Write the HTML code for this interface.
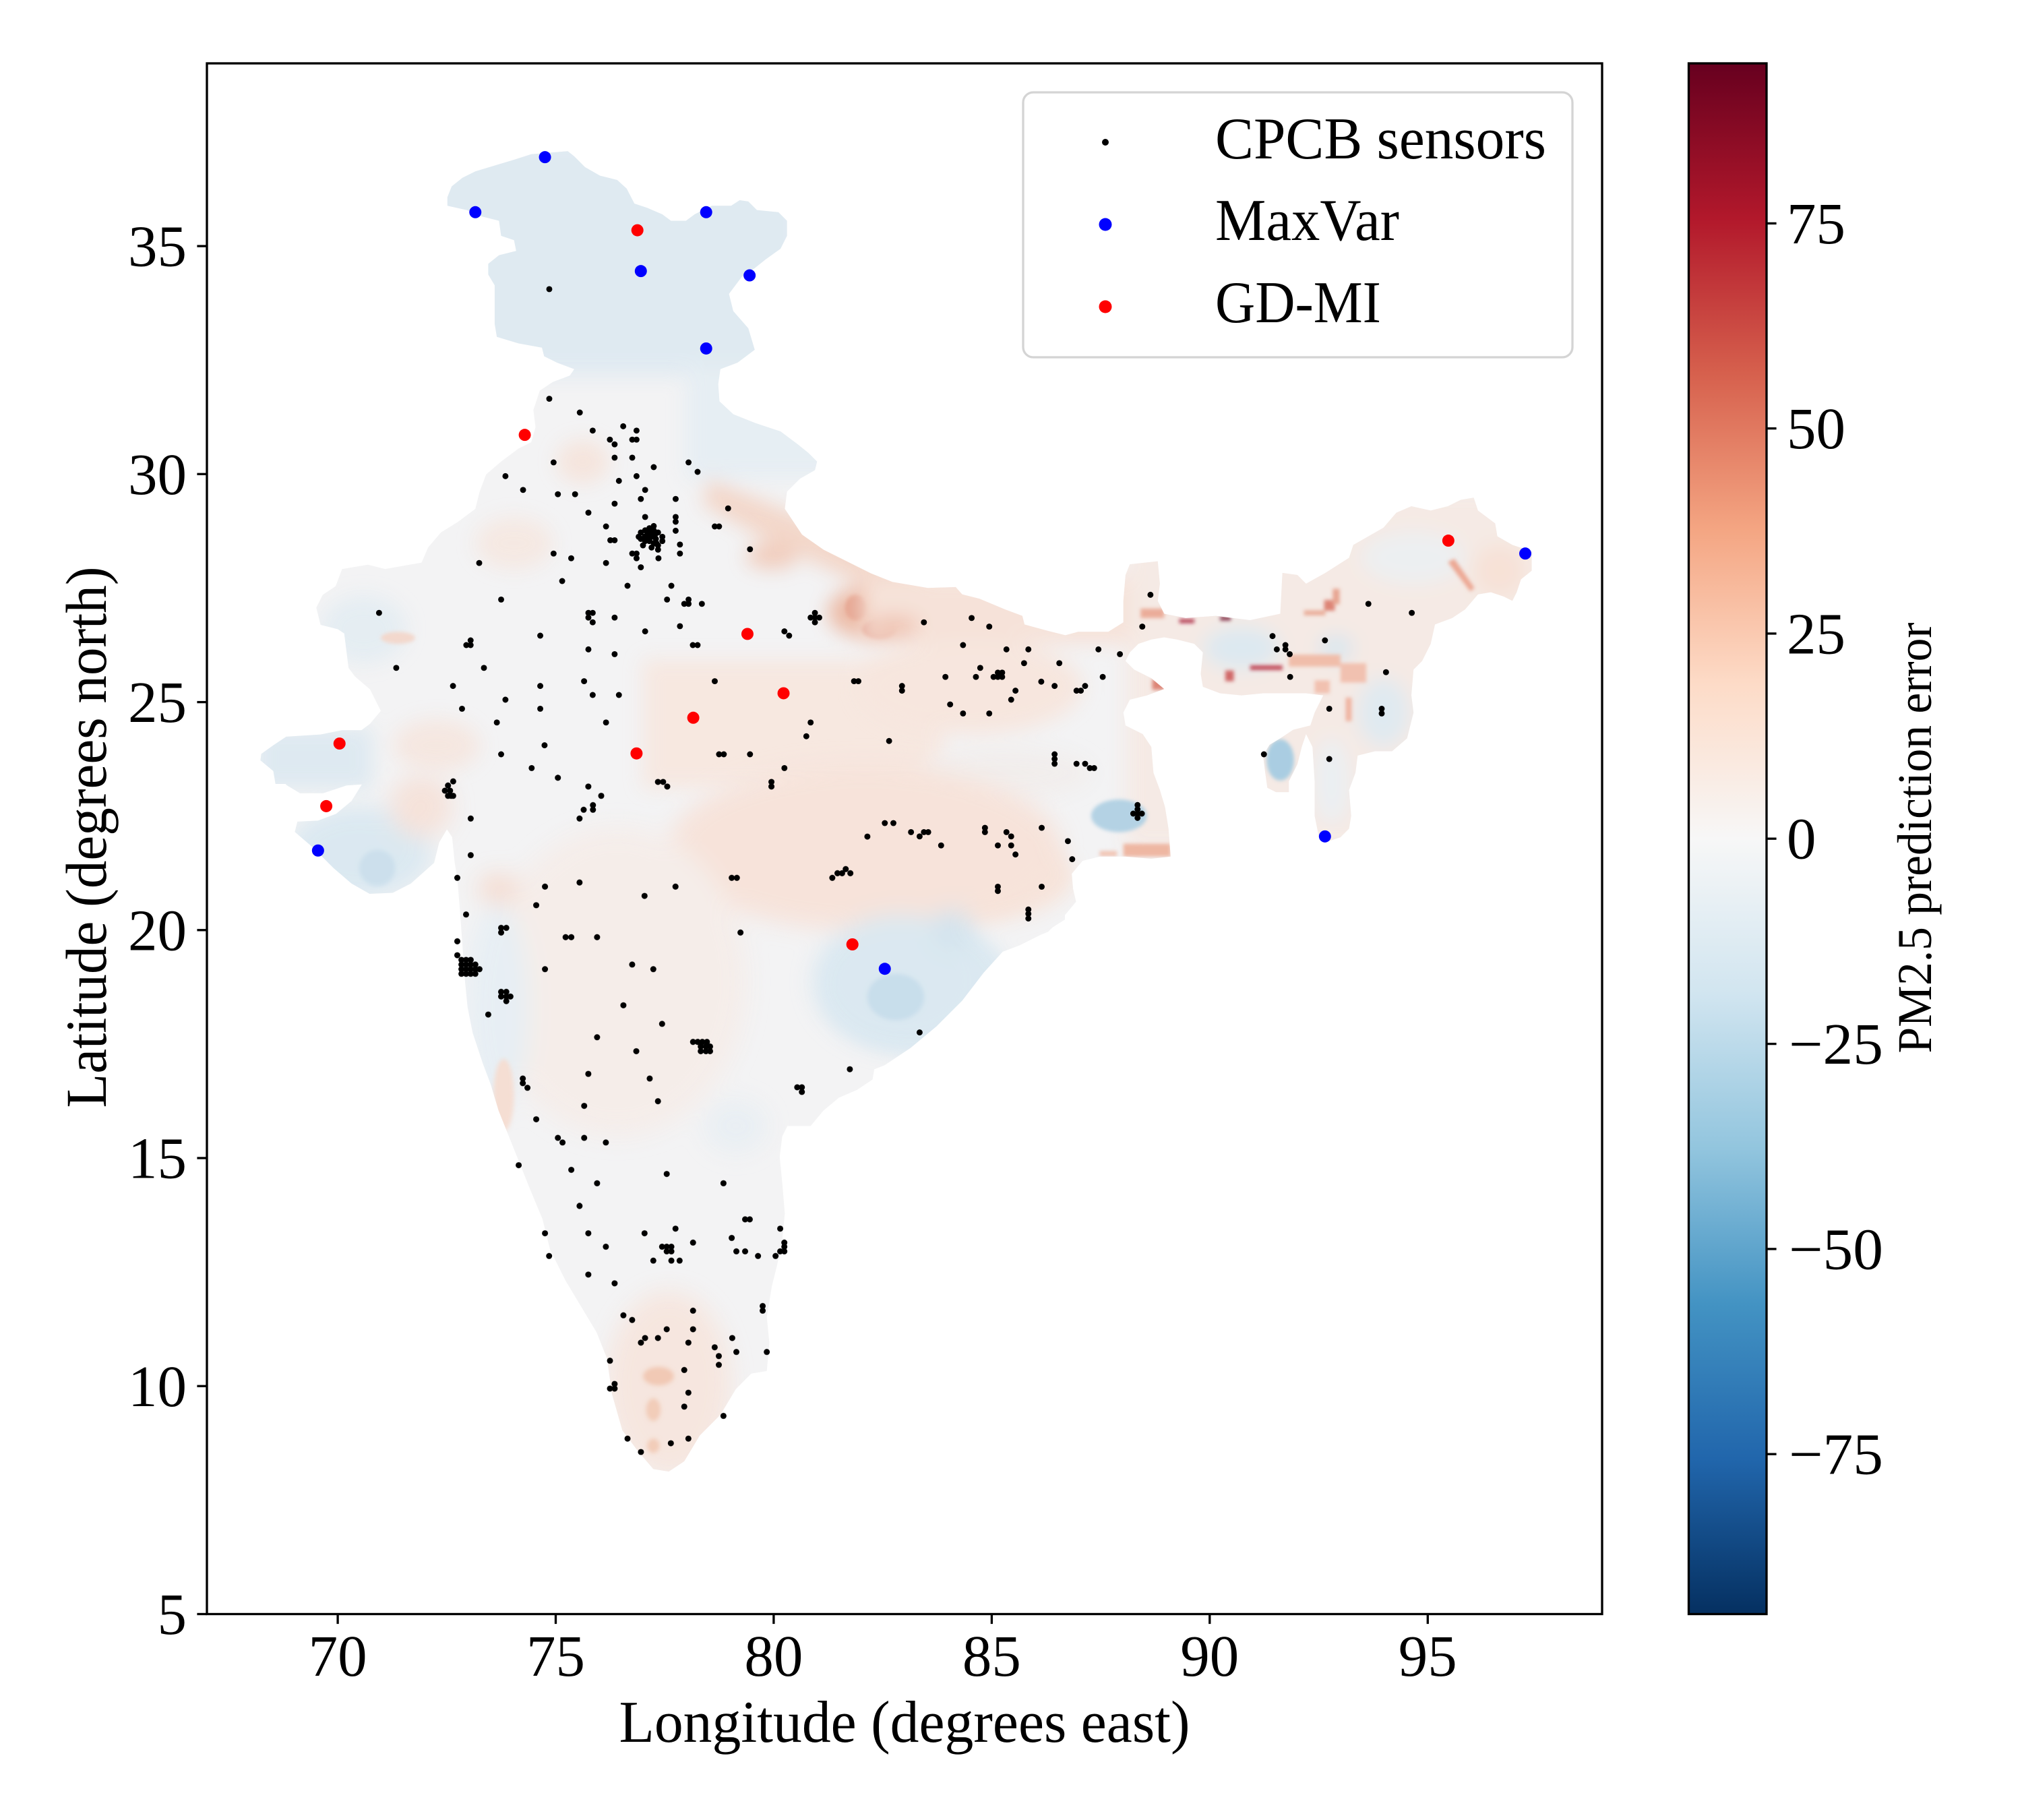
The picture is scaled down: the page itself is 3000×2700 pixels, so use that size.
<!DOCTYPE html>
<html>
<head>
<meta charset="utf-8">
<style>
html,body{margin:0;padding:0;background:#fff;}
svg{display:block;}
text{font-family:"Liberation Serif","DejaVu Serif",serif;fill:#000;}
</style>
</head>
<body>
<svg xmlns="http://www.w3.org/2000/svg" width="3000" height="2700" viewBox="0 0 3000 2700">
<defs>
<linearGradient id="cb" x1="0" y1="0" x2="0" y2="1">
<stop offset="0" stop-color="#67001f"/>
<stop offset="0.1" stop-color="#b2182b"/>
<stop offset="0.2" stop-color="#d6604d"/>
<stop offset="0.3" stop-color="#f4a582"/>
<stop offset="0.4" stop-color="#fddbc7"/>
<stop offset="0.5" stop-color="#f7f7f7"/>
<stop offset="0.6" stop-color="#d1e5f0"/>
<stop offset="0.7" stop-color="#92c5de"/>
<stop offset="0.8" stop-color="#4393c3"/>
<stop offset="0.9" stop-color="#2166ac"/>
<stop offset="1" stop-color="#053061"/>
</linearGradient>
<filter id="b1" x="-20%" y="-20%" width="140%" height="140%"><feGaussianBlur stdDeviation="22"/></filter>
<filter id="b2" x="-20%" y="-20%" width="140%" height="140%"><feGaussianBlur stdDeviation="4"/></filter>
<path id="p8" d="M445,145 L455,120 480,100 510,85 560,70 600,58 640,45 725,38 740,50 765,75 800,95 840,105 862,125 880,160 910,170 945,185 965,200 1000,200 1020,185 1060,165 1105,165 1125,152 1145,155 1165,175 1215,180 1235,200 1235,235 1220,265 1185,290 1160,310 1130,330 1100,370 1110,410 1145,450 1160,500 1120,530 1080,545 1075,580 1078,620 1110,650 1160,670 1220,690 1260,720 1285,740 1305,760 1300,780 1265,800 1235,830 1230,870 1270,930 1320,965 1370,990 1430,1020 1480,1040 1568,1055 1600,1055 1600,1510 45,1510 40,1480 10,1455 12,1440 40,1420 70,1400 150,1395 200,1385 245,1385 265,1370 290,1340 265,1290 230,1260 215,1240 210,1200 205,1160 190,1150 150,1140 140,1100 155,1070 185,1050 200,1010 260,1000 300,1010 385,995 400,960 430,925 470,900 510,870 520,830 535,790 570,760 610,730 640,715 650,680 645,640 660,595 690,575 730,560 740,545 700,530 670,515 665,495 610,485 560,470 555,440 555,350 540,325 540,300 565,280 605,270 600,245 570,235 565,200 525,190 490,175 445,165 Z"/>
<path id="p9" d="M-30,250 L0,250 60,262 120,270 185,268 200,285 240,295 300,320 340,335 345,355 400,370 440,380 470,372 540,372 575,350 575,300 580,240 590,215 655,208 660,260 655,300 670,330 720,340 790,335 830,340 870,345 940,330 945,235 980,240 1000,260 1045,235 1100,200 1110,170 1180,130 1210,95 1245,80 1290,90 1330,80 1360,65 1390,60 1400,90 1440,120 1445,150 1480,170 1525,185 1525,230 1500,250 1490,280 1480,300 1460,290 1430,280 1400,285 1370,320 1340,340 1300,355 1290,400 1270,440 1250,460 1245,520 1250,560 1235,620 1200,650 1160,650 1120,660 1115,700 1100,740 1105,800 1100,830 1080,850 1050,860 1030,850 1020,800 1020,720 1015,640 1000,610 990,640 980,680 960,720 960,745 930,745 910,735 905,700 900,660 915,635 940,620 970,600 1010,590 1020,560 1040,520 1000,515 960,515 900,515 850,520 800,515 760,500 755,470 760,420 740,400 700,390 670,385 640,390 610,400 590,420 580,440 600,460 640,480 670,505 630,520 590,530 575,560 580,590 620,610 640,640 645,700 660,740 672,780 680,830 685,895 640,900 580,895 520,895 480,905 455,935 458,970 465,1000 440,1030 400,1070 350,1090 300,1110 250,1165 200,1230 140,1290 80,1340 20,1380 -30,1400 Z"/>
<path id="p10" d="M40,-30 L40,0 60,20 85,35 130,35 175,20 205,18 185,50 155,75 120,88 80,90 75,110 110,140 150,180 185,210 220,230 265,228 300,210 345,170 355,130 370,105 380,120 385,170 390,200 395,260 400,330 405,400 410,450 420,500 440,560 455,600 470,650 490,700 510,750 530,800 555,860 570,920 600,980 630,1030 660,1080 680,1130 690,1200 710,1270 740,1310 770,1345 800,1350 830,1330 860,1280 900,1240 930,1190 960,1160 990,1155 995,1100 990,1050 1000,990 1010,950 1020,900 1025,850 1020,790 1015,740 1020,700 1030,680 1075,680 1100,650 1130,625 1165,610 1195,590 1200,560 1230,530 1270,500 1330,460 1380,420 1440,345 1480,330 1520,310 1568,280 1568,-30 Z"/>
<clipPath id="mc">
<use href="#p8" transform="translate(380,200) scale(0.63776)"/>
<use href="#p9" transform="translate(1300,700) scale(0.63776)"/>
<use href="#p10" transform="translate(380,1150) scale(0.76531)"/>
</clipPath>
</defs>

<rect x="0" y="0" width="3000" height="2700" fill="#fff"/>

<!-- map base -->
<g fill="#f3f3f4">
<use href="#p8" transform="translate(380,200) scale(0.63776)"/>
<use href="#p9" transform="translate(1300,700) scale(0.63776)"/>
<use href="#p10" transform="translate(380,1150) scale(0.76531)"/>
</g>

<!-- heat patches -->
<g clip-path="url(#mc)" opacity="0.75">
<g transform="translate(380,200) scale(0.63776)">
<g filter="url(#b1)">
<rect x="380" y="0" width="900" height="560" fill="#d9e7f1"/>
<rect x="1000" y="540" width="350" height="260" fill="#e2ecf3"/>
<ellipse cx="760" cy="760" rx="60" ry="50" fill="#f6e0d5"/>
<polygon points="1050,800 1250,880 1568,1040 1568,1120 1200,950 1040,860" fill="#f3cdbb"/>
<rect x="900" y="1220" width="700" height="300" fill="#f8e4da"/>
<rect x="0" y="1380" width="270" height="140" fill="#d7e6f0"/>
<ellipse cx="250" cy="1150" rx="100" ry="80" fill="#e0ebf2"/>
<ellipse cx="600" cy="950" rx="90" ry="60" fill="#f6e5dd"/>
<ellipse cx="420" cy="1420" rx="100" ry="60" fill="#f6e3da"/>
<ellipse cx="1420" cy="1110" rx="90" ry="60" fill="#eaa88c"/>
<ellipse cx="1200" cy="980" rx="60" ry="30" fill="#f0c0aa"/>
</g>
<g filter="url(#b2)">
<ellipse cx="1450" cy="1150" rx="40" ry="22" fill="#dc8069"/>
<ellipse cx="1395" cy="1100" rx="25" ry="30" fill="#e28f75"/>
<ellipse cx="330" cy="1170" rx="40" ry="14" fill="#f3cfc0"/>
</g>
</g>
<g transform="translate(1300,700) scale(0.63776)">
<g filter="url(#b1)">
<rect x="580" y="40" width="980" height="840" fill="#f6e7e0"/>
<rect x="-30" y="240" width="620" height="160" fill="#f7ddd0"/>
<ellipse cx="40" cy="360" rx="60" ry="25" fill="#eeb39b"/>
<ellipse cx="220" cy="500" rx="260" ry="110" fill="#f8e2d7"/>
<ellipse cx="300" cy="700" rx="200" ry="60" fill="#f1ecea"/>
<ellipse cx="200" cy="940" rx="260" ry="110" fill="#f8dfd2"/>
<ellipse cx="100" cy="1200" rx="220" ry="150" fill="#d3e5f0"/>
<ellipse cx="850" cy="410" rx="90" ry="50" fill="#d5e6f0"/>
<ellipse cx="1070" cy="410" rx="40" ry="30" fill="#cfe2ee"/>
<ellipse cx="1060" cy="720" rx="40" ry="100" fill="#e8eef3"/>
<ellipse cx="1180" cy="560" rx="60" ry="80" fill="#d9e7f0"/>
<ellipse cx="1250" cy="200" rx="120" ry="60" fill="#eaeef1"/>
<ellipse cx="1450" cy="230" rx="60" ry="60" fill="#f8dccd"/>
</g>
<g filter="url(#b2)">
<ellipse cx="565" cy="800" rx="65" ry="38" fill="#9fc7df"/>
<ellipse cx="940" cy="670" rx="32" ry="48" fill="#92c1dc"/>
<rect x="960" y="425" width="120" height="28" fill="#efab92"/>
<rect x="1080" y="445" width="60" height="45" fill="#f1b09a"/>
<rect x="1020" y="485" width="35" height="30" fill="#f1b09a"/>
<rect x="1092" y="525" width="14" height="55" fill="#eea087"/>
<rect x="870" y="450" width="75" height="11" fill="#b2182b"/>
<rect x="800" y="336" width="25" height="10" fill="#67001f"/>
<rect x="705" y="342" width="35" height="10" fill="#a50f2b"/>
<rect x="615" y="318" width="55" height="22" fill="#e8957c"/>
<rect x="1042" y="298" width="25" height="25" fill="#d6604d"/>
<rect x="995" y="322" width="50" height="12" fill="#e79a80"/>
<rect x="1062" y="272" width="16" height="36" fill="#e48c72"/>
<polygon points="1330,210 1345,202 1392,270 1382,278" fill="#ea8f74"/>
<rect x="642" y="482" width="30" height="25" fill="#d6604d"/>
<rect x="812" y="462" width="20" height="25" fill="#c53a3a"/>
<rect x="575" y="865" width="110" height="30" fill="#ee a488" opacity="0"/>
<rect x="575" y="865" width="110" height="30" fill="#eda387"/>
<rect x="520" y="882" width="40" height="12" fill="#f0b39c"/>
</g>
</g>
<g transform="translate(380,1150) scale(0.76531)">
<g filter="url(#b1)">
<ellipse cx="200" cy="150" rx="140" ry="90" fill="#d3e5f0"/>
<ellipse cx="320" cy="60" rx="60" ry="60" fill="#f6ddd2"/>
<ellipse cx="1180" cy="140" rx="380" ry="160" fill="#f8ded2"/>
<ellipse cx="700" cy="400" rx="250" ry="300" fill="#f6ebe6"/>
<ellipse cx="1250" cy="400" rx="170" ry="130" fill="#d3e5f0"/>
<ellipse cx="1350" cy="300" rx="40" ry="40" fill="#c9dfec"/>
<ellipse cx="470" cy="450" rx="60" ry="200" fill="#e3edf4"/>
<ellipse cx="800" cy="1180" rx="120" ry="180" fill="#f7e2d8"/>
<ellipse cx="930" cy="680" rx="60" ry="50" fill="#e5edf3"/>
<ellipse cx="470" cy="220" rx="40" ry="30" fill="#f5d6c7"/>
</g>
<g filter="url(#b2)">
<ellipse cx="235" cy="180" rx="35" ry="35" fill="#bfd9ea"/>
<ellipse cx="1240" cy="430" rx="55" ry="45" fill="#bad7e9"/>
<ellipse cx="480" cy="620" rx="20" ry="70" fill="#f6d7c8"/>
<ellipse cx="780" cy="1165" rx="30" ry="18" fill="#f1bba0"/>
<ellipse cx="770" cy="1230" rx="14" ry="22" fill="#f2c0a6"/>
<ellipse cx="770" cy="1300" rx="12" ry="14" fill="#f2c0a6"/>
</g>
</g>
</g>

<!-- black sensors -->
<g fill="#000">
<g transform="translate(380,200) scale(0.63776)">
<circle cx="682" cy="359" r="7"/><circle cx="682" cy="614" r="7"/><circle cx="753" cy="646" r="7"/><circle cx="854" cy="678" r="7"/><circle cx="885" cy="688" r="7"/><circle cx="783" cy="688" r="7"/><circle cx="823" cy="709" r="7"/><circle cx="834" cy="720" r="7"/><circle cx="875" cy="709" r="7"/><circle cx="885" cy="709" r="7"/><circle cx="834" cy="751" r="7"/><circle cx="875" cy="751" r="7"/><circle cx="692" cy="762" r="7"/><circle cx="925" cy="773" r="7"/><circle cx="1006" cy="762" r="7"/><circle cx="1027" cy="784" r="7"/><circle cx="580" cy="794" r="7"/><circle cx="621" cy="826" r="7"/><circle cx="885" cy="794" r="7"/><circle cx="844" cy="805" r="7"/><circle cx="905" cy="826" r="7"/><circle cx="702" cy="836" r="7"/><circle cx="742" cy="836" r="7"/><circle cx="895" cy="847" r="7"/><circle cx="976" cy="847" r="7"/><circle cx="834" cy="858" r="7"/><circle cx="773" cy="879" r="7"/><circle cx="905" cy="889" r="7"/><circle cx="976" cy="889" r="7"/><circle cx="976" cy="900" r="7"/><circle cx="1098" cy="869" r="7"/><circle cx="1067" cy="911" r="7"/><circle cx="1077" cy="911" r="7"/><circle cx="814" cy="911" r="7"/><circle cx="976" cy="921" r="7"/>
<circle cx="895" cy="925" r="7"/><circle cx="905" cy="920" r="7"/><circle cx="915" cy="915" r="7"/><circle cx="925" cy="910" r="7"/><circle cx="925" cy="920" r="7"/><circle cx="935" cy="925" r="7"/><circle cx="945" cy="935" r="7"/><circle cx="945" cy="945" r="7"/><circle cx="935" cy="955" r="7"/><circle cx="925" cy="950" r="7"/><circle cx="915" cy="945" r="7"/><circle cx="905" cy="945" r="7"/><circle cx="895" cy="940" r="7"/><circle cx="910" cy="930" r="7"/><circle cx="920" cy="935" r="7"/><circle cx="930" cy="940" r="7"/><circle cx="900" cy="955" r="7"/><circle cx="920" cy="960" r="7"/><circle cx="935" cy="965" r="7"/><circle cx="890" cy="935" r="7"/><circle cx="912" cy="940" r="7"/><circle cx="928" cy="930" r="7"/><circle cx="905" cy="935" r="8"/><circle cx="918" cy="925" r="8"/><circle cx="930" cy="950" r="8"/>
<circle cx="824" cy="943" r="7"/><circle cx="834" cy="943" r="7"/><circle cx="986" cy="953" r="7"/><circle cx="875" cy="974" r="7"/><circle cx="885" cy="974" r="7"/><circle cx="885" cy="985" r="7"/><circle cx="936" cy="985" r="7"/><circle cx="986" cy="974" r="7"/><circle cx="692" cy="974" r="7"/><circle cx="733" cy="985" r="7"/><circle cx="814" cy="996" r="7"/><circle cx="519" cy="996" r="7"/><circle cx="895" cy="1006" r="7"/><circle cx="1149" cy="964" r="7"/><circle cx="712" cy="1038" r="7"/><circle cx="864" cy="1049" r="7"/><circle cx="966" cy="1049" r="7"/><circle cx="570" cy="1081" r="7"/><circle cx="956" cy="1081" r="7"/><circle cx="996" cy="1091" r="7"/><circle cx="1006" cy="1081" r="7"/><circle cx="1006" cy="1091" r="7"/><circle cx="1037" cy="1091" r="7"/><circle cx="286" cy="1112" r="7"/><circle cx="773" cy="1112" r="7"/><circle cx="783" cy="1112" r="7"/><circle cx="773" cy="1123" r="7"/><circle cx="783" cy="1134" r="7"/><circle cx="834" cy="1123" r="7"/><circle cx="1300" cy="1112" r="7"/><circle cx="1290" cy="1123" r="7"/><circle cx="1300" cy="1123" r="7"/><circle cx="1310" cy="1123" r="7"/><circle cx="1300" cy="1134" r="7"/><circle cx="905" cy="1155" r="7"/><circle cx="986" cy="1143" r="7"/><circle cx="661" cy="1165" r="7"/><circle cx="499" cy="1176" r="7"/><circle cx="489" cy="1187" r="7"/><circle cx="499" cy="1187" r="7"/><circle cx="1229" cy="1155" r="7"/><circle cx="1240" cy="1165" r="7"/><circle cx="773" cy="1197" r="7"/><circle cx="834" cy="1208" r="7"/><circle cx="1016" cy="1187" r="7"/><circle cx="1027" cy="1187" r="7"/><circle cx="326" cy="1240" r="7"/><circle cx="530" cy="1240" r="7"/><circle cx="1067" cy="1271" r="7"/><circle cx="763" cy="1271" r="7"/><circle cx="458" cy="1282" r="7"/><circle cx="661" cy="1282" r="7"/><circle cx="783" cy="1303" r="7"/><circle cx="844" cy="1303" r="7"/><circle cx="580" cy="1314" r="7"/><circle cx="1391" cy="1271" r="7"/><circle cx="1401" cy="1271" r="7"/><circle cx="479" cy="1335" r="7"/><circle cx="661" cy="1335" r="7"/><circle cx="1290" cy="1367" r="7"/><circle cx="560" cy="1367" r="7"/><circle cx="814" cy="1367" r="7"/><circle cx="1280" cy="1399" r="7"/><circle cx="671" cy="1420" r="7"/><circle cx="570" cy="1441" r="7"/><circle cx="1077" cy="1441" r="7"/><circle cx="1088" cy="1441" r="7"/><circle cx="1149" cy="1441" r="7"/><circle cx="1229" cy="1473" r="7"/><circle cx="641" cy="1473" r="7"/>
</g>
<g transform="translate(1300,700) scale(0.63776)">
<circle cx="638" cy="286" r="7"/><circle cx="111" cy="350" r="7"/><circle cx="222" cy="340" r="7"/><circle cx="263" cy="360" r="7"/><circle cx="619" cy="360" r="7"/><circle cx="202" cy="403" r="7"/><circle cx="303" cy="413" r="7"/><circle cx="354" cy="413" r="7"/><circle cx="517" cy="413" r="7"/><circle cx="567" cy="424" r="7"/><circle cx="344" cy="445" r="7"/><circle cx="426" cy="445" r="7"/><circle cx="242" cy="456" r="7"/><circle cx="161" cy="477" r="7"/><circle cx="232" cy="477" r="7"/><circle cx="273" cy="477" r="7"/><circle cx="283" cy="467" r="7"/><circle cx="293" cy="467" r="7"/><circle cx="283" cy="477" r="7"/><circle cx="293" cy="477" r="7"/><circle cx="384" cy="488" r="7"/><circle cx="415" cy="498" r="7"/><circle cx="527" cy="477" r="7"/><circle cx="60" cy="498" r="7"/><circle cx="60" cy="509" r="7"/><circle cx="324" cy="509" r="7"/><circle cx="466" cy="509" r="7"/><circle cx="476" cy="509" r="7"/><circle cx="486" cy="498" r="7"/><circle cx="314" cy="530" r="7"/><circle cx="172" cy="541" r="7"/><circle cx="202" cy="562" r="7"/><circle cx="263" cy="562" r="7"/><circle cx="30" cy="626" r="7"/><circle cx="415" cy="657" r="7"/><circle cx="415" cy="668" r="7"/><circle cx="415" cy="679" r="7"/><circle cx="466" cy="679" r="7"/><circle cx="486" cy="679" r="7"/><circle cx="497" cy="689" r="7"/><circle cx="507" cy="689" r="7"/><circle cx="608" cy="775" r="7"/><circle cx="608" cy="785" r="7"/><circle cx="598" cy="795" r="7"/><circle cx="608" cy="795" r="7"/><circle cx="618" cy="795" r="7"/><circle cx="608" cy="805" r="7"/><circle cx="20" cy="817" r="7"/><circle cx="40" cy="817" r="7"/><circle cx="81" cy="838" r="7"/><circle cx="101" cy="848" r="7"/><circle cx="111" cy="838" r="7"/><circle cx="121" cy="838" r="7"/><circle cx="253" cy="828" r="7"/><circle cx="253" cy="838" r="7"/><circle cx="303" cy="838" r="7"/><circle cx="314" cy="848" r="7"/><circle cx="385" cy="828" r="7"/><circle cx="151" cy="869" r="7"/><circle cx="283" cy="869" r="7"/><circle cx="314" cy="869" r="7"/><circle cx="324" cy="890" r="7"/><circle cx="446" cy="859" r="7"/><circle cx="456" cy="901" r="7"/><circle cx="283" cy="965" r="7"/><circle cx="283" cy="975" r="7"/><circle cx="385" cy="965" r="7"/><circle cx="354" cy="1018" r="7"/><circle cx="354" cy="1028" r="7"/><circle cx="354" cy="1039" r="7"/><circle cx="101" cy="1304" r="7"/><circle cx="922" cy="382" r="7"/><circle cx="952" cy="403" r="7"/><circle cx="952" cy="413" r="7"/><circle cx="932" cy="413" r="7"/><circle cx="962" cy="424" r="7"/><circle cx="1044" cy="392" r="7"/><circle cx="963" cy="477" r="7"/><circle cx="1145" cy="307" r="7"/><circle cx="1246" cy="328" r="7"/><circle cx="1186" cy="466" r="7"/><circle cx="1054" cy="551" r="7"/><circle cx="1176" cy="551" r="7"/><circle cx="1176" cy="562" r="7"/><circle cx="902" cy="657" r="7"/><circle cx="1054" cy="668" r="7"/>
</g>
<g transform="translate(380,1150) scale(0.76531)">
<circle cx="366" cy="30" r="5.9"/><circle cx="372" cy="20" r="5.9"/><circle cx="382" cy="12" r="5.9"/><circle cx="378" cy="40" r="5.9"/><circle cx="372" cy="40" r="5.9"/><circle cx="382" cy="40" r="5.9"/><circle cx="376" cy="30" r="5.9"/><circle cx="585" cy="5" r="5.9"/><circle cx="644" cy="22" r="5.9"/><circle cx="669" cy="40" r="5.9"/><circle cx="653" cy="58" r="5.9"/><circle cx="653" cy="67" r="5.9"/><circle cx="635" cy="67" r="5.9"/><circle cx="627" cy="84" r="5.9"/><circle cx="416" cy="84" r="5.9"/><circle cx="416" cy="155" r="5.9"/><circle cx="779" cy="13" r="5.9"/><circle cx="789" cy="13" r="5.9"/><circle cx="797" cy="22" r="5.9"/><circle cx="999" cy="13" r="5.9"/><circle cx="999" cy="22" r="5.9"/><circle cx="1185" cy="119" r="5.9"/><circle cx="390" cy="199" r="5.9"/><circle cx="560" cy="216" r="5.9"/><circle cx="627" cy="208" r="5.9"/><circle cx="753" cy="234" r="5.9"/><circle cx="813" cy="216" r="5.9"/><circle cx="922" cy="199" r="5.9"/><circle cx="932" cy="199" r="5.9"/><circle cx="1117" cy="199" r="5.9"/><circle cx="1127" cy="190" r="5.9"/><circle cx="1136" cy="190" r="5.9"/><circle cx="1143" cy="182" r="5.9"/><circle cx="1152" cy="190" r="5.9"/><circle cx="543" cy="252" r="5.9"/><circle cx="407" cy="270" r="5.9"/><circle cx="475" cy="296" r="5.9"/><circle cx="485" cy="296" r="5.9"/><circle cx="475" cy="305" r="5.9"/><circle cx="600" cy="314" r="5.9"/><circle cx="611" cy="314" r="5.9"/><circle cx="661" cy="314" r="5.9"/><circle cx="939" cy="305" r="5.9"/><circle cx="390" cy="322" r="5.9"/><circle cx="390" cy="349" r="5.9"/>
<circle cx="398" cy="358" r="5.9"/><circle cx="407" cy="358" r="5.9"/><circle cx="416" cy="358" r="5.9"/><circle cx="398" cy="367" r="5.9"/><circle cx="407" cy="367" r="5.9"/><circle cx="416" cy="367" r="5.9"/><circle cx="425" cy="367" r="5.9"/><circle cx="398" cy="376" r="5.9"/><circle cx="407" cy="376" r="5.9"/><circle cx="416" cy="376" r="5.9"/><circle cx="425" cy="376" r="5.9"/><circle cx="433" cy="376" r="5.9"/><circle cx="398" cy="385" r="5.9"/><circle cx="407" cy="385" r="5.9"/><circle cx="416" cy="385" r="5.9"/><circle cx="425" cy="385" r="5.9"/>
<circle cx="560" cy="376" r="5.9"/><circle cx="729" cy="367" r="5.9"/><circle cx="770" cy="376" r="5.9"/><circle cx="475" cy="420" r="5.9"/><circle cx="485" cy="420" r="5.9"/><circle cx="475" cy="429" r="5.9"/><circle cx="485" cy="429" r="5.9"/><circle cx="493" cy="429" r="5.9"/><circle cx="485" cy="438" r="5.9"/><circle cx="450" cy="464" r="5.9"/><circle cx="712" cy="446" r="5.9"/><circle cx="787" cy="482" r="5.9"/><circle cx="661" cy="508" r="5.9"/><circle cx="737" cy="535" r="5.9"/>
<circle cx="847" cy="517" r="5.9"/><circle cx="856" cy="517" r="5.9"/><circle cx="865" cy="517" r="5.9"/><circle cx="874" cy="517" r="5.9"/><circle cx="862" cy="526" r="5.9"/><circle cx="872" cy="526" r="5.9"/><circle cx="862" cy="535" r="5.9"/><circle cx="872" cy="535" r="5.9"/><circle cx="880" cy="535" r="5.9"/><circle cx="880" cy="526" r="5.9"/>
<circle cx="644" cy="579" r="5.9"/><circle cx="763" cy="588" r="5.9"/><circle cx="517" cy="588" r="5.9"/><circle cx="517" cy="597" r="5.9"/><circle cx="526" cy="606" r="5.9"/><circle cx="636" cy="641" r="5.9"/><circle cx="779" cy="632" r="5.9"/><circle cx="543" cy="667" r="5.9"/><circle cx="585" cy="703" r="5.9"/><circle cx="594" cy="712" r="5.9"/><circle cx="636" cy="703" r="5.9"/><circle cx="678" cy="712" r="5.9"/><circle cx="509" cy="756" r="5.9"/><circle cx="611" cy="765" r="5.9"/><circle cx="796" cy="773" r="5.9"/><circle cx="661" cy="791" r="5.9"/><circle cx="906" cy="791" r="5.9"/><circle cx="627" cy="835" r="5.9"/><circle cx="948" cy="861" r="5.9"/><circle cx="957" cy="861" r="5.9"/><circle cx="560" cy="888" r="5.9"/><circle cx="644" cy="888" r="5.9"/><circle cx="753" cy="888" r="5.9"/><circle cx="813" cy="879" r="5.9"/><circle cx="1016" cy="879" r="5.9"/><circle cx="678" cy="914" r="5.9"/><circle cx="787" cy="914" r="5.9"/><circle cx="796" cy="914" r="5.9"/><circle cx="805" cy="914" r="5.9"/><circle cx="796" cy="923" r="5.9"/><circle cx="805" cy="923" r="5.9"/><circle cx="847" cy="906" r="5.9"/><circle cx="922" cy="897" r="5.9"/><circle cx="931" cy="923" r="5.9"/><circle cx="948" cy="923" r="5.9"/><circle cx="973" cy="932" r="5.9"/><circle cx="1007" cy="932" r="5.9"/><circle cx="1016" cy="923" r="5.9"/><circle cx="1024" cy="923" r="5.9"/><circle cx="1024" cy="906" r="5.9"/><circle cx="1024" cy="914" r="5.9"/><circle cx="568" cy="932" r="5.9"/><circle cx="770" cy="941" r="5.9"/><circle cx="805" cy="941" r="5.9"/><circle cx="821" cy="941" r="5.9"/><circle cx="644" cy="968" r="5.9"/><circle cx="695" cy="985" r="5.9"/><circle cx="982" cy="1029" r="5.9"/><circle cx="982" cy="1038" r="5.9"/><circle cx="847" cy="1038" r="5.9"/><circle cx="712" cy="1047" r="5.9"/><circle cx="729" cy="1056" r="5.9"/><circle cx="796" cy="1074" r="5.9"/><circle cx="847" cy="1074" r="5.9"/><circle cx="754" cy="1091" r="5.9"/><circle cx="746" cy="1100" r="5.9"/><circle cx="779" cy="1091" r="5.9"/><circle cx="838" cy="1100" r="5.9"/><circle cx="889" cy="1109" r="5.9"/><circle cx="923" cy="1091" r="5.9"/><circle cx="897" cy="1126" r="5.9"/><circle cx="897" cy="1143" r="5.9"/><circle cx="931" cy="1118" r="5.9"/><circle cx="990" cy="1118" r="5.9"/><circle cx="686" cy="1135" r="5.9"/><circle cx="830" cy="1153" r="5.9"/><circle cx="695" cy="1180" r="5.9"/><circle cx="686" cy="1189" r="5.9"/><circle cx="695" cy="1189" r="5.9"/><circle cx="838" cy="1197" r="5.9"/><circle cx="830" cy="1224" r="5.9"/><circle cx="906" cy="1242" r="5.9"/><circle cx="720" cy="1286" r="5.9"/><circle cx="746" cy="1312" r="5.9"/><circle cx="804" cy="1295" r="5.9"/><circle cx="838" cy="1286" r="5.9"/><circle cx="1151" cy="570" r="5.9"/><circle cx="1049" cy="605" r="5.9"/><circle cx="1058" cy="605" r="5.9"/><circle cx="1058" cy="614" r="5.9"/>
</g>
</g>

<!-- MaxVar (blue) -->
<g fill="#0000ff">
<g transform="translate(380,200) scale(0.63776)">
<circle cx="672" cy="52" r="14.1"/><circle cx="510" cy="180" r="14.1"/><circle cx="1047" cy="180" r="14.1"/><circle cx="895" cy="317" r="14.1"/><circle cx="1148" cy="327" r="14.1"/><circle cx="1047" cy="497" r="14.1"/>
</g>
<g transform="translate(1300,700) scale(0.63776)">
<circle cx="1510" cy="190" r="14.1"/><circle cx="1044" cy="848" r="14.1"/><circle cx="20" cy="1156" r="14.1"/>
</g>
<g transform="translate(380,1150) scale(0.76531)">
<circle cx="120" cy="146" r="11.8"/>
</g>
</g>

<!-- GD-MI (red) -->
<g fill="#ff0000">
<g transform="translate(380,200) scale(0.63776)">
<circle cx="887" cy="222" r="14.1"/><circle cx="625" cy="698" r="14.1"/><circle cx="1143" cy="1161" r="14.1"/><circle cx="1227" cy="1299" r="14.1"/><circle cx="1017" cy="1356" r="14.1"/><circle cx="885" cy="1439" r="14.1"/><circle cx="194" cy="1416" r="14.1"/>
</g>
<g transform="translate(1300,700) scale(0.63776)">
<circle cx="1331" cy="160" r="14.1"/>
</g>
<g transform="translate(380,1150) scale(0.76531)">
<circle cx="136" cy="60" r="11.8"/><circle cx="1156" cy="328" r="11.8"/>
</g>
</g>

<!-- axes frame -->
<rect x="307" y="94" width="2070" height="2300.5" fill="none" stroke="#000" stroke-width="3.33"/>

<g stroke="#000" stroke-width="3.33">
<line x1="501.1" y1="2394.5" x2="501.1" y2="2409.1"/>
<line x1="824.5" y1="2394.5" x2="824.5" y2="2409.1"/>
<line x1="1147.9" y1="2394.5" x2="1147.9" y2="2409.1"/>
<line x1="1471.4" y1="2394.5" x2="1471.4" y2="2409.1"/>
<line x1="1794.8" y1="2394.5" x2="1794.8" y2="2409.1"/>
<line x1="2118.3" y1="2394.5" x2="2118.3" y2="2409.1"/>
<line x1="292.4" y1="2394.5" x2="307" y2="2394.5"/>
<line x1="292.4" y1="2056.3" x2="307" y2="2056.3"/>
<line x1="292.4" y1="1718.0" x2="307" y2="1718.0"/>
<line x1="292.4" y1="1379.8" x2="307" y2="1379.8"/>
<line x1="292.4" y1="1041.6" x2="307" y2="1041.6"/>
<line x1="292.4" y1="703.3" x2="307" y2="703.3"/>
<line x1="292.4" y1="365.1" x2="307" y2="365.1"/>
</g>

<g font-size="87" text-anchor="middle">
<text x="501.1" y="2486">70</text>
<text x="824.5" y="2486">75</text>
<text x="1147.9" y="2486">80</text>
<text x="1471.4" y="2486">85</text>
<text x="1794.8" y="2486">90</text>
<text x="2118.3" y="2486">95</text>
</g>
<g font-size="87" text-anchor="end">
<text x="277" y="2424">5</text>
<text x="277" y="2085.8">10</text>
<text x="277" y="1747.5">15</text>
<text x="277" y="1409.3">20</text>
<text x="277" y="1071.1">25</text>
<text x="277" y="732.8">30</text>
<text x="277" y="394.6">35</text>
</g>

<text x="1342" y="2584" font-size="88" text-anchor="middle" textLength="847" lengthAdjust="spacingAndGlyphs">Longitude (degrees east)</text>
<text transform="translate(157,1242) rotate(-90)" font-size="86" text-anchor="middle" textLength="803" lengthAdjust="spacingAndGlyphs">Latitude (degrees north)</text>

<!-- legend -->
<rect x="1518" y="137" width="815" height="393" rx="15" ry="15" fill="#fff" fill-opacity="0.8" stroke="#d4d4d4" stroke-width="3.3"/>
<circle cx="1640" cy="211" r="5" fill="#000"/>
<circle cx="1640" cy="333" r="9.5" fill="#0000ff"/>
<circle cx="1640" cy="455" r="9.5" fill="#ff0000"/>
<text x="1803" y="235" font-size="88" textLength="491" lengthAdjust="spacingAndGlyphs">CPCB sensors</text>
<text x="1803" y="356" font-size="88" textLength="273" lengthAdjust="spacingAndGlyphs">MaxVar</text>
<text x="1803" y="478" font-size="88" textLength="246" lengthAdjust="spacingAndGlyphs">GD-MI</text>

<!-- colorbar -->
<rect x="2505.5" y="94" width="115.5" height="2300.5" fill="url(#cb)" stroke="#000" stroke-width="3.33"/>
<g stroke="#000" stroke-width="3.33">
<line x1="2621" y1="331.4" x2="2635.6" y2="331.4"/>
<line x1="2621" y1="635.6" x2="2635.6" y2="635.6"/>
<line x1="2621" y1="939.9" x2="2635.6" y2="939.9"/>
<line x1="2621" y1="1244.2" x2="2635.6" y2="1244.2"/>
<line x1="2621" y1="1548.6" x2="2635.6" y2="1548.6"/>
<line x1="2621" y1="1852.9" x2="2635.6" y2="1852.9"/>
<line x1="2621" y1="2157.2" x2="2635.6" y2="2157.2"/>
</g>
<g font-size="87">
<text x="2651" y="360.9">75</text>
<text x="2651" y="665.1">50</text>
<text x="2651" y="969.4">25</text>
<text x="2651" y="1273.7">0</text>
<text x="2654" y="1578.1" textLength="140" lengthAdjust="spacingAndGlyphs">−25</text>
<text x="2654" y="1882.4" textLength="140" lengthAdjust="spacingAndGlyphs">−50</text>
<text x="2654" y="2186.7" textLength="140" lengthAdjust="spacingAndGlyphs">−75</text>
</g>
<text transform="translate(2865,1243) rotate(-90)" font-size="72" text-anchor="middle" textLength="639" lengthAdjust="spacingAndGlyphs">PM2.5 prediction error</text>
</svg>
</body>
</html>
